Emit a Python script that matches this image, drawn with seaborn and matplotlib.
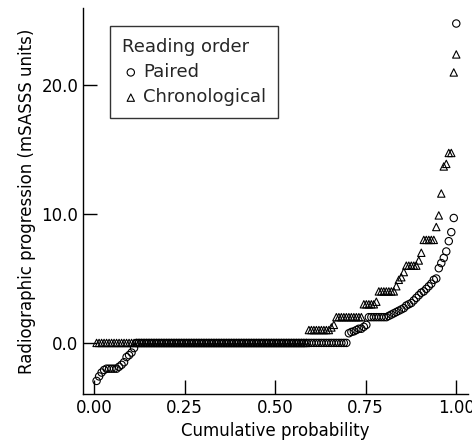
import seaborn as sns
import matplotlib.pyplot as plt
from matplotlib.ticker import FormatStrFormatter
import numpy as np
import pandas as pd

# sorted progression scores per reading order (mSASSS units), one per patient
paired = (
    [-2.95, -2.6, -2.3, -2.1, -2.0, -2.0, -2.0, -2.0, -2.0, -1.85, -1.7, -1.5,
     -1.1, -0.95, -0.75, -0.4]
    + [0.0] * 85
    + [0.75, 0.85, 0.9, 1.0, 1.1, 1.1, 1.25, 1.4]
    + [2.0] * 8
    + [2.1, 2.2, 2.3, 2.4, 2.5, 2.6, 2.7, 2.9, 3.0, 3.1, 3.3, 3.5, 3.7, 3.9,
       4.0, 4.2, 4.4, 4.6, 4.9, 5.0]
    + [5.8, 6.2, 6.6, 7.1, 7.9, 8.6, 9.7, 24.8]
)
chronological = (
    [0.0] * 85
    + [1.0] * 9 + [1.2, 1.4]
    + [2.0] * 11
    + [3.0] * 5 + [3.2]
    + [4.0] * 7 + [4.4, 4.9, 5.1, 5.5]
    + [6.0] * 5 + [6.4, 7.0]
    + [8.0] * 5
    + [9.0, 9.9, 11.6, 13.7, 13.9, 14.75, 14.75, 21.0, 22.4]
)

n = len(paired)
cum_prob = np.arange(1, n + 1) / n

df = pd.DataFrame({
    "Cumulative probability": np.concatenate([cum_prob, cum_prob]),
    "progression": np.array(paired + chronological),
    "Reading order": ["Paired"] * n + ["Chronological"] * n,
})

sns.set_theme(style="white")
plt.rcParams["font.family"] = ["DejaVu Sans"]
plt.rcParams["font.size"] = 12

fig = plt.figure(figsize=(4.72, 4.48), dpi=100)
ax = fig.add_axes([0.176, 0.121, 0.816, 0.861])

markers = {"Paired": "o", "Chronological": "^"}
for order in ["Paired", "Chronological"]:
    sub = df[df["Reading order"] == order]
    sns.scatterplot(
        data=sub, x="Cumulative probability", y="progression", ax=ax,
        marker=markers[order], s=28, color="black", facecolor="none",
        edgecolor="black", linewidth=0.8, label=order,
    )

ax.set_xlim(-0.0304, 1.033)
ax.set_ylim(-3.95, 26)
ax.set_xticks([0, 0.25, 0.5, 0.75, 1.0])
ax.set_yticks([0, 10, 20])
ax.xaxis.set_major_formatter(FormatStrFormatter("%.2f"))
ax.yaxis.set_major_formatter(FormatStrFormatter("%.1f"))
ax.tick_params(direction="in", length=10, width=1, colors="black",
               labelsize=12, left=True, bottom=True)

for side in ["top", "right"]:
    ax.spines[side].set_visible(False)
for side in ["left", "bottom"]:
    ax.spines[side].set_color("black")
    ax.spines[side].set_linewidth(1)

ax.set_xlabel("Cumulative probability", fontsize=12, color="black")
ax.set_ylabel("Radiographic progression (mSASSS units)", fontsize=12,
              color="black")

leg = ax.legend(title="Reading order", loc="upper left",
                bbox_to_anchor=(0.07, 0.953), borderaxespad=0,
                fontsize=13, title_fontsize=13,
                frameon=True, fancybox=False, edgecolor="black",
                handletextpad=0.2, handlelength=1.0, borderpad=0.65,
                labelspacing=0.4)
leg._legend_box.align = "left"
leg.get_frame().set_linewidth(1)

fig.savefig("out.png", dpi=100)
